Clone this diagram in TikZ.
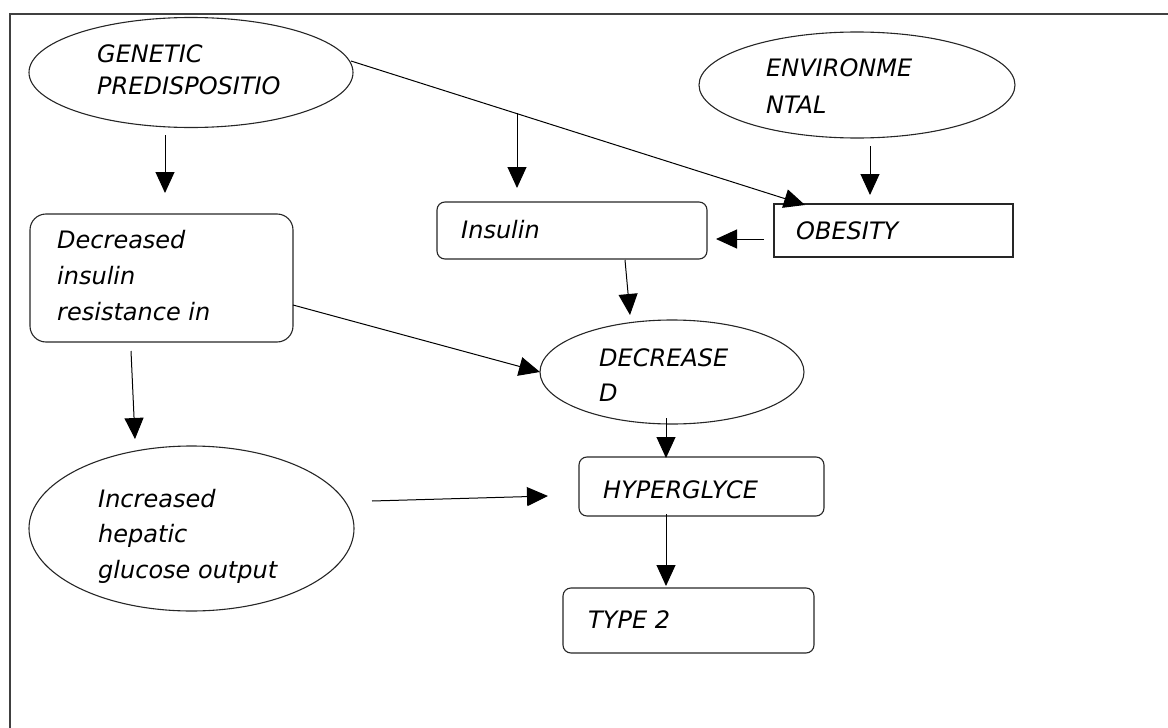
\documentclass[tikz,border=0pt]{standalone}
\usepackage{fontspec}
\setmainfont{DejaVu Sans}
\usetikzlibrary{shapes.geometric,arrows.meta}
\begin{document}
\begin{tikzpicture}[x=1pt,y=-1pt,
  shp/.style={draw=black!85, line width=1.1pt, inner sep=0pt},
  ell/.style={shp, ellipse},
  rbox/.style={shp, rectangle, rounded corners=8pt},
  sbox/.style={shp, rectangle},
  lbl/.style={anchor=base west, align=left, inner sep=0pt},
  arr/.style={draw=black, line width=1pt, -{Triangle[length=21pt,width=19pt]}}]
\useasboundingbox (0,0) rectangle (1168,728);
% frame (top and left edges visible)
\draw[line width=2pt, black!75] (9.5,728) -- (9.5,14) -- (1168,14);

% shapes
\node[ell, minimum width=324pt, minimum height=110pt] (gen) at (191,72.5) {};
\node[ell, minimum width=316pt, minimum height=106pt] (env) at (857,85) {};
\node[shp, rectangle, rounded corners=16pt, minimum width=263pt, minimum height=128pt] (dbox) at (161.5,278) {};
\node[rbox, minimum width=270pt, minimum height=57pt] (ins) at (572,230.5) {};
\node[sbox, minimum width=239pt, minimum height=53pt] (obe) at (893.5,230.5) {};
\node[ell, minimum width=264pt, minimum height=104pt] (decr) at (672,372) {};
\node[rbox, minimum width=245pt, minimum height=59pt] (hyp) at (701.5,486.5) {};
\node[ell, minimum width=325pt, minimum height=165pt] (incr) at (191.5,528.5) {};
\node[rbox, minimum width=251pt, minimum height=65pt] (type) at (688.5,620.5) {};

% labels (anchor = baseline of the last line)
\node[lbl, font=\fontsize{24}{32}\selectfont\itshape] (tgen) at (97,94) {GENETIC\\PREDISPOSITIO};
\node[lbl, font=\fontsize{24}{37}\selectfont\itshape] (tenv) at (766,113) {ENVIRONME\\NTAL};
\node[lbl, font=\fontsize{24}{30}\selectfont\itshape] (tins) at (461,238) {Insulin};
\node[lbl, font=\fontsize{24}{30}\selectfont\itshape] (tobe) at (796,239) {OBESITY};
\node[lbl, font=\fontsize{24}{36}\selectfont\itshape] (tdbox) at (57,320) {Decreased\\insulin\\resistance in};
\node[lbl, font=\fontsize{24}{35}\selectfont\itshape] (tdecr) at (599,401) {DECREASE\\D};
\node[lbl, font=\fontsize{24}{35.5}\selectfont\itshape] (tincr) at (98,578) {Increased\\hepatic\\glucose output};
\node[lbl, font=\fontsize{24}{30}\selectfont\itshape] (thyp) at (603,498) {HYPERGLYCE};
\node[lbl, font=\fontsize{24}{30}\selectfont\itshape] (ttype) at (588,628) {TYPE 2};

% connector end points
\coordinate (g1) at (165,135);  \coordinate (g2) at (165,193);
\coordinate (d0) at (351,61);   \coordinate (d1) at (805,205);
\coordinate (i1) at (517,113);  \coordinate (i2) at (517,188);
\coordinate (e1) at (870,146);  \coordinate (e2) at (870,195);
\coordinate (o1) at (764,239);  \coordinate (o2) at (716,239);
\coordinate (n1) at (625,260);  \coordinate (n2) at (630,315);
\coordinate (b1) at (293,305);  \coordinate (b2) at (540,372);
\coordinate (c1) at (131,351);  \coordinate (c2) at (135,439);
\coordinate (h1) at (666,418);  \coordinate (h2) at (666,458);
\coordinate (p1) at (372,501);  \coordinate (p2) at (548,496);
\coordinate (t1) at (666,514);  \coordinate (t2) at (666,586);

% connectors
\draw[arr] (g1) -- (g2);
\draw[arr] (d0) -- (d1);
\draw[arr] (i1) -- (i2);
\draw[arr] (e1) -- (e2);
\draw[arr] (o1) -- (o2);
\draw[arr] (n1) -- (n2);
\draw[arr] (b1) -- (b2);
\draw[arr] (c1) -- (c2);
\draw[arr] (h1) -- (h2);
\draw[arr] (p1) -- (p2);
\draw[arr] (t1) -- (t2);
\end{tikzpicture}
\end{document}
